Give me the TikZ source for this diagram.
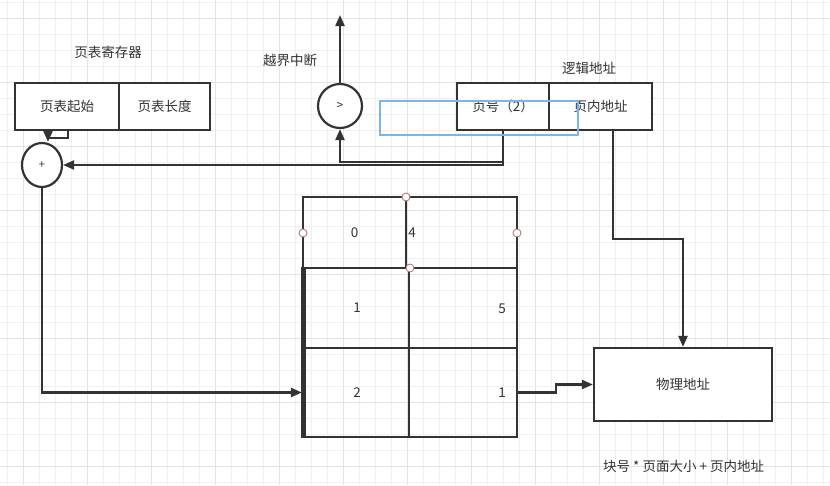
\documentclass[tikz,border=0pt]{standalone}
\usepackage{fontspec}
\setmainfont{Noto Sans CJK SC}
\usetikzlibrary{arrows.meta,shapes.geometric}
\definecolor{ink}{HTML}{333333}
\definecolor{gridminor}{HTML}{F0F0F0}
\definecolor{gridmajor}{HTML}{E3E3E3}
\definecolor{selblue}{HTML}{7DB3E8}
\definecolor{handle}{HTML}{B57A7C}
\begin{document}
\begin{tikzpicture}[x=1pt,y=-1pt,
  font=\fontsize{13.5}{16}\selectfont,
  box/.style={draw=ink, line width=2.2pt, inner sep=0pt, text=ink, fill=white},
  cellbox/.style={draw=ink, line width=2.2pt, inner sep=0pt, text=ink},
  circ/.style={draw=ink, line width=2.2pt, ellipse, inner sep=0pt, text=ink, fill=white},
  lbl/.style={text=ink, inner sep=0pt},
  conn/.style={draw=ink, line width=2.2pt, -{Triangle[length=11pt,width=9pt]}},
  plainline/.style={draw=ink, line width=2.2pt},
  hdl/.style={draw=handle, fill=white, line width=0.9pt, circle, inner sep=0pt, minimum size=8pt}]
\useasboundingbox (0,0) rectangle (830,485);
\fill[white] (0,0) rectangle (830,485);
% grid
\foreach \x in {7,23,...,823} \draw[gridminor, line width=0.8pt] (\x,0) -- (\x,485);
\foreach \y in {2,18,...,482} \draw[gridminor, line width=0.8pt] (0,\y) -- (830,\y);
\foreach \x in {23,87,...,823} \draw[gridmajor, line width=0.8pt] (\x,0) -- (\x,485);
\foreach \y in {18,82,...,482} \draw[gridmajor, line width=0.8pt] (0,\y) -- (830,\y);

% page table register
\node[lbl] (regtitle) at (108,52) {页表寄存器};
\node[box, minimum width=104pt, minimum height=47pt] (ptstart) at (67,106.5) {页表起始};
\node[box, minimum width=91pt, minimum height=47pt] (ptlen) at (164.5,106.5) {页表长度};

% adder
\node[circ, minimum width=40pt, minimum height=44pt] (plus) at (42,165) {\fontsize{11}{11}\selectfont +};

% comparator
\node[circ, minimum width=44pt, minimum height=44pt] (gt) at (340,106) {\fontsize{12}{12}\selectfont >};
\coordinate (intr) at (340,15);
\node[lbl] (intrlbl) at (290,60) {越界中断};

% logical address
\node[lbl] (logtitle) at (589,68) {逻辑地址};
\node[box, minimum width=92pt, minimum height=47pt] (pgno) at (503,106.5) {页号（2）};
\node[box, minimum width=103pt, minimum height=47pt] (offs) at (600.5,106.5) {页内地址};

% page table
\node[cellbox, minimum width=103pt, minimum height=71pt] (c0) at (354.5,232.5) {0};
\node[cellbox, minimum width=111pt, minimum height=71pt] (c4) at (461.5,232.5) {};
\node[cellbox, minimum width=104pt, minimum height=80pt] (c1) at (357,308) {1};
\node[cellbox, minimum width=108pt, minimum height=80pt] (c5) at (463,308) {};
\node[cellbox, minimum width=104pt, minimum height=89pt] (c2) at (357,392.5) {2};
\node[cellbox, minimum width=108pt, minimum height=89pt] (c1b) at (463,392.5) {};
\node[lbl] (v4) at (412,233) {4};
\node[lbl] (v5) at (502,309) {5};
\node[lbl] (v1) at (502,393) {1};
\draw[plainline, line width=4pt] ([xshift=-1pt]c1.north west) -- ([xshift=-1pt]c2.south west);

% physical address
\node[box, minimum width=178pt, minimum height=73pt] (phys) at (683,384.5) {物理地址};
\node[lbl, anchor=west] (formula) at (603,466) {块号 * 页面大小 + 页内地址};

% connectors
\draw[plainline] ([xshift=1pt]ptstart.south) -- ++(0,7) -- ++(-20,0) coordinate (bend);
\draw[conn] (bend) -- (bend |- plus.north);
\draw[conn] (gt.north) -- (intr);
\draw[conn] (pgno.south) -- ++(0,31) -| (gt.south);
\draw[conn] (pgno.south) |- (plus.east);
\draw[conn] (plus.south) |- ([xshift=-2pt]c2.west);
\draw[conn] ([xshift=12.5pt]offs.south) -- ++(0,108) -| (phys.north);
\draw[conn] (c1b.east) -- ++(38,0) |- (phys.west);

% selection overlay
\draw[selblue, line width=2pt] (380,101) rectangle (578,135);
\node[hdl] (h1) at (406,197) {};
\node[hdl] (h2) at (303,233) {};
\node[hdl] (h3) at (517,233) {};
\node[hdl] (h4) at (410,268) {};
\end{tikzpicture}
\end{document}
